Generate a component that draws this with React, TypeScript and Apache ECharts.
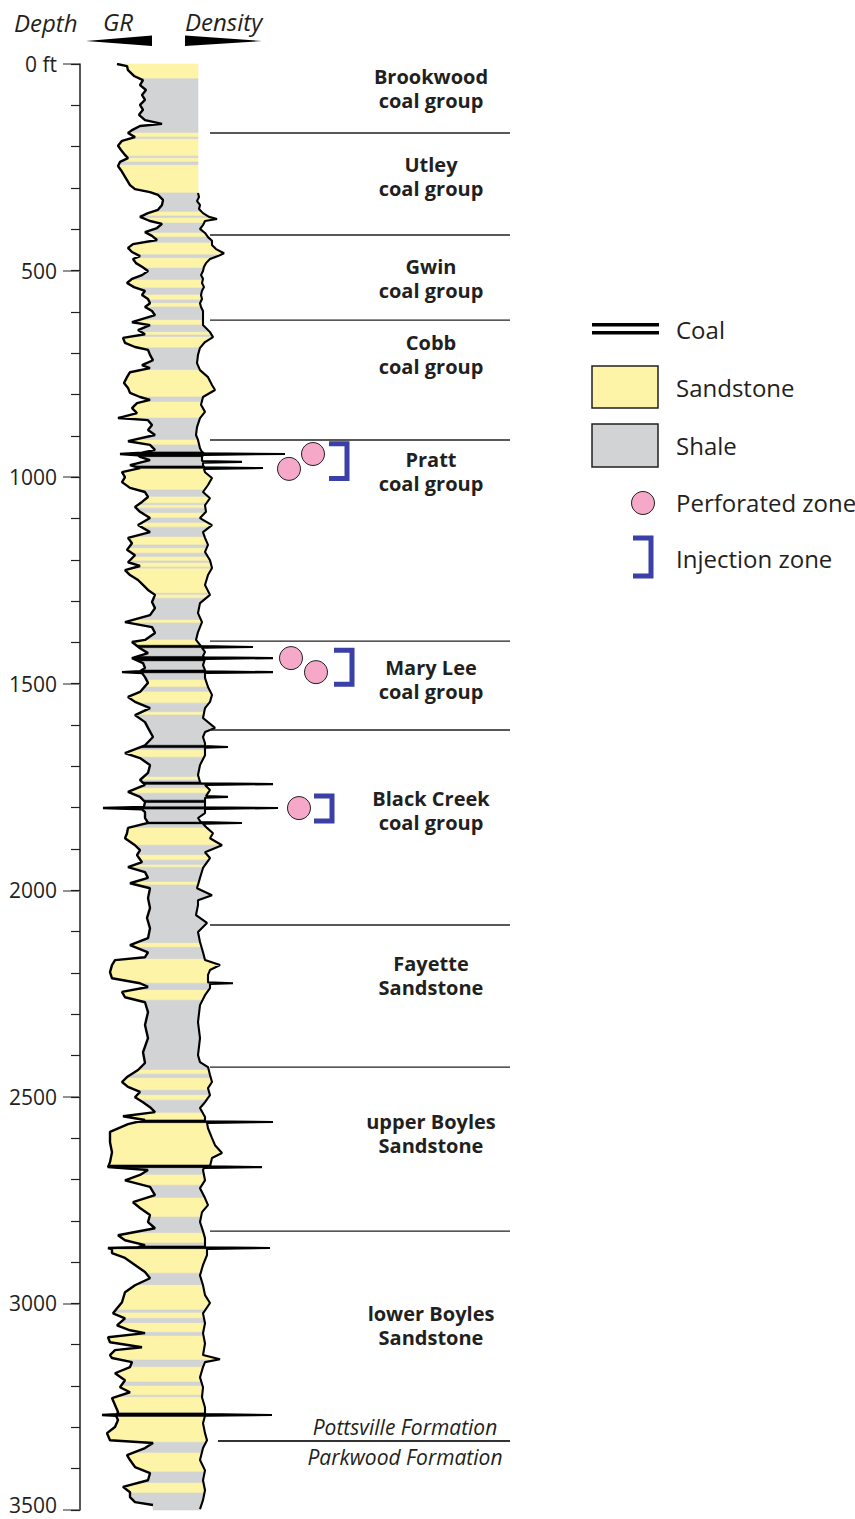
import React, { useEffect, useRef } from "react";
import * as echarts from "echarts";

// ---------- DATA ----------
const DEPTH_LABEL_TICKS = [0, 500, 1000, 1500, 2000, 2500, 3000, 3500];

// Gamma-ray trace: [depth ft, track position]
const GR: [number, number][] = [
  [0,37],[5,47],[15,48],[29,54],[39,63],[51,60],[63,66],[75,62],[87,65],[99,60],[111,63],[123,59],[136,65],[145,82],[150,60],[160,52],[167,48],[177,55],[186,42],[198,38],[208,41],[220,45],[228,48],[237,40],[247,38],[257,41],[269,44],[281,47],[293,50],[303,55],[310,70],[317,78],[329,83],[341,82],[353,78],[361,68],[370,60],[380,70],[387,82],[397,77],[407,65],[416,72],[426,77],[436,53],[445,48],[455,52],[465,60],[472,53],[482,56],[491,62],[501,68],[511,62],[520,52],[530,47],[540,54],[549,65],[559,62],[569,68],[579,70],[588,65],[598,72],[608,75],[625,52],[632,70],[644,58],[654,65],[663,43],[675,45],[685,55],[692,68],[704,70],[717,73],[729,62],[736,70],[746,50],[758,47],[772,44],[784,48],[796,50],[806,60],[813,70],[821,57],[833,52],[845,57],[857,38],[862,68],[874,72],[886,68],[898,75],[913,48],[922,70],[934,75],[941,62],[944,40],[947,58],[951,60],[959,70],[971,50],[978,60],[988,42],[1000,45],[1012,42],[1026,50],[1036,65],[1048,68],[1060,62],[1072,55],[1084,60],[1099,70],[1116,58],[1133,70],[1147,48],[1160,52],[1176,47],[1189,55],[1206,48],[1215,60],[1225,45],[1237,50],[1249,58],[1261,63],[1273,68],[1285,75],[1302,72],[1317,75],[1334,70],[1351,45],[1363,72],[1377,75],[1394,65],[1399,52],[1414,60],[1426,68],[1438,52],[1450,63],[1462,65],[1470,60],[1472,42],[1474,62],[1484,65],[1498,68],[1520,60],[1532,48],[1544,55],[1559,70],[1576,55],[1593,65],[1607,68],[1629,73],[1649,65],[1668,45],[1680,60],[1697,70],[1716,68],[1733,60],[1745,65],[1762,48],[1774,60],[1786,65],[1798,64],[1801,23],[1804,62],[1811,65],[1825,65],[1837,68],[1849,48],[1862,47],[1874,45],[1891,55],[1903,60],[1915,57],[1932,62],[1944,48],[1956,65],[1970,68],[1983,50],[1995,70],[2019,68],[2043,70],[2067,67],[2092,70],[2116,68],[2133,50],[2150,68],[2162,65],[2169,35],[2181,32],[2198,30],[2213,32],[2225,60],[2234,68],[2246,42],[2259,45],[2271,65],[2295,68],[2326,65],[2358,68],[2392,63],[2418,65],[2435,58],[2452,47],[2464,42],[2476,48],[2488,60],[2501,55],[2513,63],[2525,70],[2537,75],[2547,43],[2556,65],[2566,48],[2585,30],[2610,30],[2634,32],[2658,30],[2670,28],[2677,68],[2689,60],[2702,45],[2718,70],[2738,75],[2755,53],[2769,60],[2786,70],[2803,68],[2818,75],[2835,38],[2847,45],[2859,65],[2864,58],[2866,28],[2869,32],[2878,32],[2890,45],[2907,55],[2924,65],[2939,70],[2956,55],[2973,45],[2997,42],[3024,33],[3036,45],[3053,37],[3065,50],[3072,65],[3082,28],[3094,30],[3106,62],[3113,35],[3125,30],[3132,32],[3142,52],[3154,50],[3169,35],[3186,45],[3203,40],[3215,50],[3229,32],[3246,35],[3263,38],[3268,37],[3270,22],[3272,36],[3282,38],[3299,35],[3314,27],[3331,30],[3338,73],[3350,65],[3367,47],[3379,50],[3396,55],[3411,70],[3428,68],[3444,43],[3457,50],[3469,50],[3481,55],[3488,73]
];

// Bulk-density trace (logged from 312 ft down): [depth ft, track position]
const DENSITY: [number, number][] = [
  [312,118],[322,119],[332,117],[341,120],[351,119],[361,123],[370,129],[375,137],[380,125],[390,123],[399,120],[409,125],[419,128],[428,132],[438,132],[448,136],[458,144],[465,138],[472,130],[482,126],[491,124],[501,123],[511,121],[520,123],[530,122],[540,124],[549,122],[559,121],[569,122],[579,120],[588,121],[598,123],[620,123],[632,123],[649,130],[661,133],[673,125],[687,120],[704,118],[724,117],[741,120],[758,128],[777,132],[789,135],[806,123],[825,121],[842,125],[857,120],[879,117],[898,116],[910,118],[930,120],[939,122],[942,124],[944,205],[946,124],[949,122],[954,122],[961,122],[963,162],[965,123],[971,123],[976,124],[978,183],[980,124],[988,125],[1002,132],[1019,128],[1036,123],[1051,130],[1068,125],[1084,126],[1099,120],[1116,132],[1133,123],[1147,125],[1164,128],[1181,125],[1201,130],[1220,132],[1237,128],[1261,125],[1285,130],[1305,120],[1329,118],[1351,122],[1375,118],[1394,116],[1406,120],[1409,121],[1411,173],[1413,122],[1423,125],[1433,123],[1436,124],[1438,193],[1440,125],[1455,123],[1467,125],[1470,125],[1472,193],[1474,125],[1486,125],[1508,128],[1527,132],[1544,130],[1559,125],[1583,123],[1607,135],[1617,125],[1629,123],[1644,125],[1651,125],[1653,148],[1655,125],[1673,125],[1697,120],[1721,118],[1738,120],[1741,121],[1743,193],[1745,125],[1757,130],[1772,126],[1774,148],[1776,125],[1796,125],[1799,125],[1801,198],[1803,125],[1813,125],[1825,118],[1832,120],[1835,121],[1837,162],[1839,123],[1849,127],[1862,133],[1874,130],[1891,142],[1908,125],[1922,130],[1946,123],[1970,120],[1995,117],[2012,132],[2024,118],[2036,118],[2060,116],[2079,127],[2101,118],[2125,120],[2150,123],[2169,125],[2181,140],[2193,130],[2205,128],[2223,128],[2225,153],[2227,130],[2237,130],[2254,125],[2278,120],[2319,118],[2358,120],[2399,118],[2416,120],[2428,128],[2447,130],[2464,132],[2479,128],[2496,130],[2513,125],[2527,120],[2549,125],[2559,125],[2561,193],[2563,127],[2576,128],[2600,132],[2617,135],[2636,142],[2648,132],[2668,130],[2670,182],[2672,124],[2677,123],[2702,125],[2721,120],[2745,125],[2762,128],[2779,122],[2803,120],[2825,123],[2842,125],[2864,125],[2866,190],[2868,127],[2883,127],[2907,123],[2932,120],[2956,123],[2980,125],[2999,130],[3024,123],[3048,125],[3072,123],[3097,125],[3125,123],[3135,140],[3142,125],[3154,123],[3179,120],[3203,123],[3227,122],[3252,125],[3268,125],[3270,192],[3272,125],[3290,123],[3314,125],[3331,127],[3350,123],[3379,120],[3404,125],[3428,123],[3452,125],[3476,123],[3498,120]
];

// Lithology intervals: [top ft, base ft, kind]
const LITHOLOGY: [number, number, string][] = [
  [0,36,"sand"],[36,167,"shale"],[167,177,"sand"],[177,182,"shale"],[182,223,"sand"],[223,228,"shale"],[228,237,"sand"],[237,245,"shale"],[245,312,"sand"],[312,358,"shale"],[358,368,"sand"],[368,373,"shale"],[373,385,"sand"],[385,409,"shale"],[409,419,"sand"],[419,433,"shale"],[433,462,"sand"],[462,470,"shale"],[470,494,"sand"],[494,523,"shale"],[523,542,"sand"],[542,559,"shale"],[559,571,"sand"],[571,579,"shale"],[579,588,"sand"],[588,620,"shale"],[620,632,"sand"],[632,649,"shale"],[649,656,"sand"],[656,661,"shale"],[661,687,"sand"],[687,741,"shale"],[741,806,"sand"],[806,818,"shale"],[818,857,"sand"],[857,910,"shale"],[910,922,"sand"],[922,939,"shale"],[939,952,"coal"],[952,973,"shale"],[973,980,"coal"],[980,1031,"sand"],[1031,1048,"shale"],[1048,1063,"sand"],[1063,1068,"shale"],[1068,1075,"sand"],[1075,1087,"shale"],[1087,1099,"sand"],[1099,1111,"shale"],[1111,1121,"sand"],[1121,1145,"shale"],[1145,1164,"sand"],[1164,1172,"shale"],[1172,1184,"sand"],[1184,1193,"shale"],[1193,1203,"sand"],[1203,1208,"shale"],[1208,1218,"sand"],[1218,1222,"shale"],[1222,1281,"sand"],[1281,1285,"shale"],[1285,1293,"sand"],[1293,1346,"shale"],[1346,1353,"sand"],[1353,1394,"shale"],[1394,1407,"sand"],[1407,1414,"coal"],[1414,1434,"shale"],[1434,1446,"coal"],[1446,1467,"shale"],[1467,1475,"coal"],[1475,1491,"shale"],[1491,1508,"sand"],[1508,1520,"shale"],[1520,1547,"sand"],[1547,1569,"shale"],[1569,1576,"sand"],[1576,1649,"shale"],[1649,1656,"coal"],[1656,1661,"shale"],[1661,1678,"sand"],[1678,1726,"shale"],[1726,1733,"sand"],[1733,1738,"shale"],[1738,1745,"coal"],[1745,1753,"shale"],[1753,1765,"sand"],[1765,1782,"shale"],[1782,1789,"coal"],[1789,1798,"shale"],[1798,1805,"coal"],[1805,1835,"shale"],[1835,1841,"coal"],[1841,1849,"shale"],[1849,1891,"sand"],[1891,1915,"shale"],[1915,1927,"sand"],[1927,1939,"shale"],[1939,1944,"sand"],[1944,1980,"shale"],[1980,1987,"sand"],[1987,2128,"shale"],[2128,2138,"sand"],[2138,2167,"shale"],[2167,2225,"sand"],[2225,2242,"shale"],[2242,2266,"sand"],[2266,2435,"shale"],[2435,2445,"sand"],[2445,2455,"shale"],[2455,2484,"sand"],[2484,2496,"shale"],[2496,2508,"sand"],[2508,2539,"shale"],[2539,2556,"sand"],[2556,2564,"coal"],[2564,2665,"sand"],[2665,2673,"coal"],[2673,2689,"shale"],[2689,2714,"sand"],[2714,2745,"shale"],[2745,2791,"sand"],[2791,2830,"shale"],[2830,2854,"sand"],[2854,2861,"shale"],[2861,2869,"coal"],[2869,2927,"sand"],[2927,2956,"shale"],[2956,3016,"sand"],[3016,3023,"shale"],[3023,3036,"sand"],[3036,3048,"shale"],[3048,3070,"sand"],[3070,3079,"shale"],[3079,3137,"sand"],[3137,3154,"shale"],[3154,3190,"sand"],[3190,3200,"shale"],[3200,3222,"sand"],[3222,3227,"shale"],[3227,3265,"sand"],[3265,3275,"coal"],[3275,3336,"sand"],[3336,3362,"shale"],[3362,3408,"sand"],[3408,3435,"shale"],[3435,3459,"sand"],[3459,3500,"shale"]
];

const FORMATION_TOPS = [167, 414, 620, 910, 1397, 1612, 2084, 2428, 2825];
const FORMATION_LABELS: [number, string, string][] = [
  [59, "Brookwood", "coal group"],
  [272, "Utley", "coal group"],
  [519, "Gwin", "coal group"],
  [704, "Cobb", "coal group"],
  [986, "Pratt", "coal group"],
  [1490, "Mary Lee", "coal group"],
  [1806, "Black Creek", "coal group"],
  [2206, "Fayette", "Sandstone"],
  [2589, "upper Boyles", "Sandstone"],
  [3054, "lower Boyles", "Sandstone"],
];
const FORMATION_CONTACT = 3333;
const CONTACT_LABELS: [number, string][] = [
  [3299, "Pottsville Formation"],
  [3372, "Parkwood Formation"],
];

// Perforated zones: [track position, depth ft]
const PERFORATIONS: [number, number][] = [
  [233, 944], [209, 980], [211, 1438], [236, 1472], [219, 1801],
];
// Injection zones: [top ft, base ft, track position]
const INJECTION_ZONES: [number, number, number][] = [
  [919, 1003, 267], [1419, 1501, 272], [1772, 1832, 252],
];

// ---------- STYLE ----------
const SAND = "#fdf4a7";
const SHALE = "#d1d3d4";
const COAL = "#000000";
const LITH_KINDS = ["sand", "shale", "coal"];
const LITH_COLORS = [SAND, SHALE, COAL];
const INK = "#231f20";
const BLUE = "#3b3fa8";
const PINK = "#f5a8c8";
const FONT = "'Open Sans', 'Noto Sans', sans-serif";
const CORE_EDGE = 118; // right edge of column where no density log

function interp(curve: [number, number][], d: number): number {
  const n = curve.length;
  if (d <= curve[0][0]) return curve[0][1];
  if (d >= curve[n - 1][0]) return curve[n - 1][1];
  for (let i = 1; i < n; i++) {
    if (curve[i][0] >= d) {
      const [d0, v0] = curve[i - 1];
      const [d1, v1] = curve[i];
      return v0 + ((v1 - v0) * (d - d0)) / (d1 - d0);
    }
  }
  return curve[n - 1][1];
}
function rightAt(d: number): number {
  return d < DENSITY[0][0] ? CORE_EDGE : interp(DENSITY, d);
}

function txt(text: string, x: number, y: number, size: number, opts: any = {}) {
  return {
    type: "text",
    x,
    y,
    style: {
      text,
      fill: INK,
      fontSize: size,
      fontFamily: FONT,
      fontStyle: opts.italic ? "italic" : "normal",
      fontWeight: opts.bold ? "bold" : "normal",
      align: opts.align || "left",
      textAlign: opts.align || "left",
      verticalAlign: "middle",
      textVerticalAlign: "middle",
    },
  };
}

export default function App() {
  const ref = useRef<HTMLDivElement>(null);
  useEffect(() => {
    document.body.style.margin = "0";
    const chart = echarts.init(ref.current!, null, { renderer: "svg" });

    const option: any = {
      animation: false,
      backgroundColor: "#ffffff",
      grid: { left: 80, top: 64, width: 430, height: 1446, containLabel: false },
      xAxis: { type: "value", min: 0, max: 430, show: false },
      yAxis: [
        {
          type: "value",
          inverse: true,
          min: 0,
          max: 3500,
          interval: 500,
          position: "left",
          splitLine: { show: false },
          axisLine: { show: true, lineStyle: { color: INK, width: 1.5 } },
          axisTick: { show: true, length: 17, lineStyle: { color: "#6d6e71", width: 1.5 } },
          axisLabel: {
            margin: 23,
            fontSize: 21,
            fontFamily: FONT,
            color: INK,
            formatter: (v: number) =>
              v === 0
                ? "0 ft"
                : v === DEPTH_LABEL_TICKS[DEPTH_LABEL_TICKS.length - 1]
                ? "{edge|" + v + "}"
                : DEPTH_LABEL_TICKS.includes(v)
                ? String(v)
                : "",
            rich: {
              edge: { fontSize: 21, fontFamily: FONT, color: INK, padding: [0, 0, 10, 0] },
            },
          },
        },
        {
          type: "value",
          inverse: true,
          min: 0,
          max: 3500,
          interval: 100,
          position: "left",
          offset: 0,
          splitLine: { show: false },
          axisLine: { show: false },
          axisTick: { show: true, length: 9, lineStyle: { color: INK, width: 1.2 } },
          axisLabel: { show: false },
        },
      ],
      series: [
        {
          type: "custom",
          name: "lithology",
          clip: false,
          z: 1,
          encode: { x: 2, y: [0, 1] },
          data: LITHOLOGY.map(([t, b, k]) => [t, b, LITH_KINDS.indexOf(k)]),
          renderItem: (params: any, api: any) => {
            const top = api.value(0);
            const bottom = api.value(1);
            const kind = api.value(2);
            const left: number[][] = [[interp(GR, top), top]];
            GR.forEach(([d, v]) => {
              if (d > top && d < bottom) left.push([v, d]);
            });
            left.push([interp(GR, bottom), bottom]);
            const right: number[][] = [[rightAt(top), top]];
            DENSITY.forEach(([d, v]) => {
              if (d > top && d < bottom) right.push([v, d]);
            });
            right.push([rightAt(bottom), bottom]);
            const pts = left.concat(right.reverse()).map((p) => api.coord(p));
            const c = LITH_COLORS[kind];
            return {
              type: "polygon",
              shape: { points: pts },
              style: { fill: c, stroke: c, lineWidth: 0.6 },
            };
          },
        },
        {
          type: "line",
          name: "GR",
          z: 3,
          symbol: "none",
          data: GR.map(([d, v]) => [v, d]),
          lineStyle: { color: "#000", width: 2.4 },
        },
        {
          type: "line",
          name: "Density",
          z: 3,
          symbol: "none",
          data: DENSITY.map(([d, v]) => [v, d]),
          lineStyle: { color: "#000", width: 2.1 },
        },
        {
          type: "custom",
          name: "tops",
          z: 4,
          clip: false,
          encode: { y: 0 },
          data: FORMATION_TOPS.map((d) => [d]),
          renderItem: (params: any, api: any) => {
            const d = api.value(0);
            const a = api.coord([130, d]);
            const b = api.coord([430, d]);
            return {
              type: "line",
              shape: { x1: a[0], y1: a[1], x2: b[0], y2: b[1] },
              style: { stroke: INK, lineWidth: 1.4 },
            };
          },
        },
        {
          type: "custom",
          name: "contact",
          z: 4,
          clip: false,
          encode: { y: 0 },
          data: [[FORMATION_CONTACT]],
          renderItem: (params: any, api: any) => {
            const d = api.value(0);
            const a = api.coord([138, d]);
            const b = api.coord([430, d]);
            const group: any = {
              type: "group",
              children: [
                {
                  type: "line",
                  shape: { x1: a[0], y1: a[1], x2: b[0], y2: b[1] },
                  style: { stroke: "#333", lineWidth: 2 },
                },
              ],
            };
            CONTACT_LABELS.forEach(([ld, t]) => {
              const p = api.coord([325, ld]);
              group.children.push(txt(t, p[0], p[1], 21, { italic: true, align: "center" }));
            });
            return group;
          },
        },
        {
          type: "custom",
          name: "labels",
          z: 5,
          clip: false,
          encode: { y: 0 },
          data: FORMATION_LABELS.map(([d]) => [d]),
          renderItem: (params: any, api: any) => {
            const d = api.value(0);
            const p = api.coord([351, d]);
            const item = FORMATION_LABELS[params.dataIndex];
            return {
              type: "group",
              children: [
                txt(item[1], p[0], p[1] - 12, 20, { bold: true, align: "center" }),
                txt(item[2], p[0], p[1] + 12, 20, { bold: true, align: "center" }),
              ],
            };
          },
        },
        {
          type: "custom",
          name: "injection",
          z: 5,
          clip: false,
          encode: { y: [0, 1] },
          data: INJECTION_ZONES.map(([t, b, x]) => [t, b, x]),
          renderItem: (params: any, api: any) => {
            const t = api.coord([api.value(2), api.value(0)]);
            const b = api.coord([api.value(2), api.value(1)]);
            const arm = 18;
            return {
              type: "polyline",
              shape: {
                points: [
                  [t[0] - arm, t[1]],
                  [t[0], t[1]],
                  [b[0], b[1]],
                  [b[0] - arm, b[1]],
                ],
              },
              style: { stroke: BLUE, lineWidth: 5, fill: "none", lineJoin: "miter" },
            };
          },
        },
        {
          type: "scatter",
          name: "Perforated zone",
          z: 6,
          symbol: "circle",
          symbolSize: 23,
          data: PERFORATIONS,
          itemStyle: { color: PINK, borderColor: INK, borderWidth: 1, opacity: 1 },
        },
      ],
      graphic: [
        txt("Depth", 14, 22, 24, { italic: true }),
        txt("GR", 103, 21, 24, { italic: true }),
        txt("Density", 185, 21, 24, { italic: true }),
        { type: "polygon", shape: { points: [[86, 41], [152, 35.5], [152, 46]] }, style: { fill: "#000" } },
        { type: "polygon", shape: { points: [[185, 35.5], [185, 46], [262, 41]] }, style: { fill: "#000" } },
        // legend
        { type: "rect", shape: { x: 592, y: 323, width: 67, height: 3.5 }, style: { fill: "#000" } },
        { type: "rect", shape: { x: 592, y: 331, width: 67, height: 3.5 }, style: { fill: "#000" } },
        txt("Coal", 676, 329, 24),
        { type: "rect", shape: { x: 592, y: 366, width: 66, height: 42 }, style: { fill: SAND, stroke: INK, lineWidth: 1.5 } },
        txt("Sandstone", 676, 387, 24),
        { type: "rect", shape: { x: 592, y: 424, width: 66, height: 43 }, style: { fill: SHALE, stroke: INK, lineWidth: 1.5 } },
        txt("Shale", 676, 445, 24),
        { type: "circle", shape: { cx: 643, cy: 503, r: 11.5 }, style: { fill: PINK, stroke: INK, lineWidth: 1 } },
        txt("Perforated zone", 676, 502, 24),
        {
          type: "polyline",
          shape: { points: [[633, 538], [651, 538], [651, 576], [633, 576]] },
          style: { stroke: BLUE, lineWidth: 5, fill: "none", lineJoin: "miter" },
        },
        txt("Injection zone", 676, 558, 24),
      ],
    };

    chart.setOption(option);
    return () => chart.dispose();
  }, []);

  return <div ref={ref} style={{ width: 855, height: 1519 }} />;
}
